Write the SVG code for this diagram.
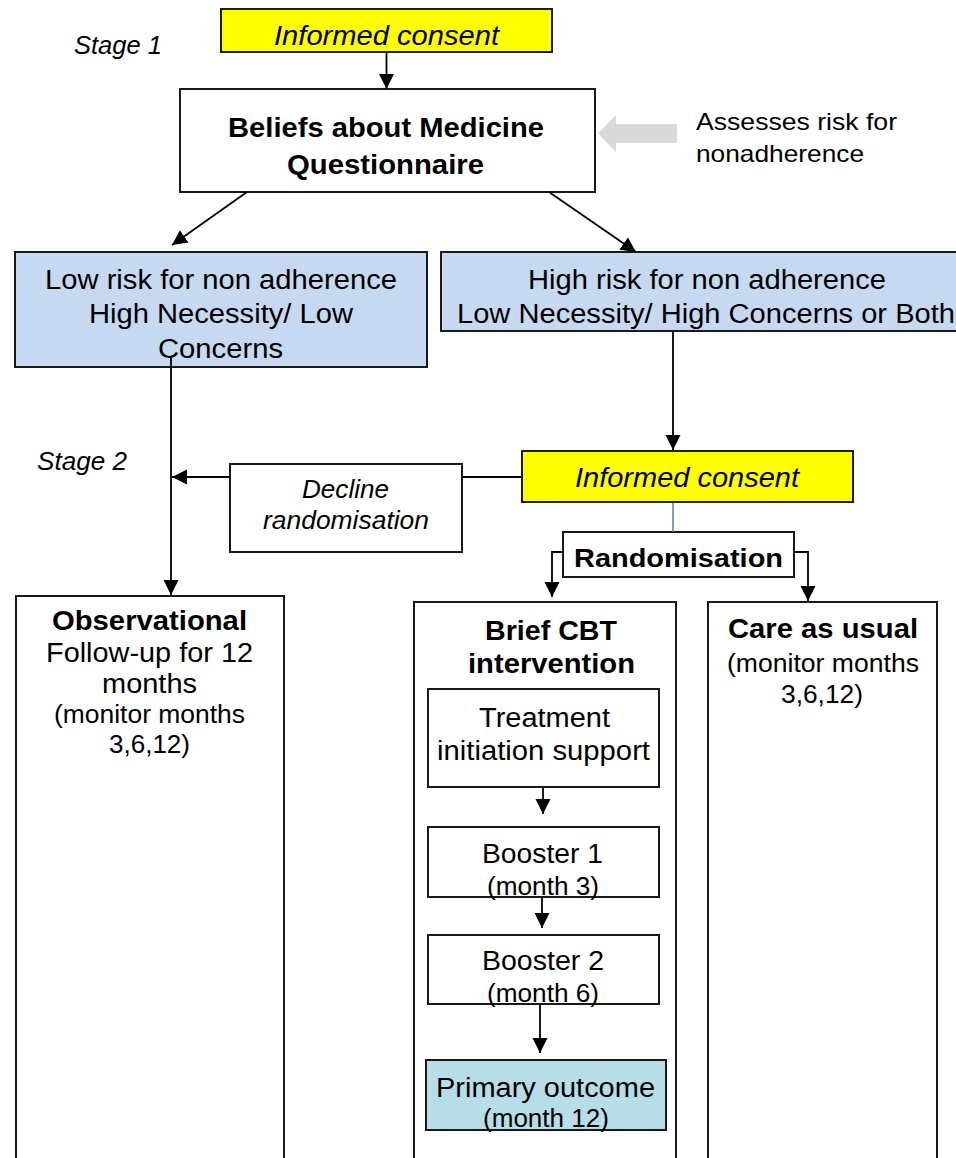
<svg xmlns="http://www.w3.org/2000/svg" width="956" height="1158" viewBox="0 0 956 1158">
  <style>
    text { font-family: "Liberation Sans", Arial, sans-serif; fill: #000; }
    .it { font-style: italic; }
    .b { font-weight: bold; }
    .s27 { font-size: 27px; }
    .s25 { font-size: 25px; }
    .s24 { font-size: 24px; }
    .box { fill: #fff; stroke: #1a1a1a; stroke-width: 2; }
    .yellow { fill: #ffff00; stroke: #1a1a1a; stroke-width: 2; }
    .blue { fill: #c6d9f1; stroke: #1a1a1a; stroke-width: 2; }
    .teal { fill: #b7dde8; stroke: #1a1a1a; stroke-width: 2; }
    .link { fill: none; stroke: #000; stroke-width: 1.8; }
    .arrow { marker-end: url(#head); }
  </style>
  <defs>
    <marker id="head" markerUnits="userSpaceOnUse" markerWidth="16" markerHeight="16" refX="15" refY="7.5" orient="auto">
      <path d="M0,0 L15,7.5 L0,15 z" fill="#000"/>
    </marker>
  </defs>

  <rect width="956" height="1158" fill="#fff"/>

  <!-- stage labels -->
  <text class="it s25" x="74" y="54" textLength="88" lengthAdjust="spacingAndGlyphs">Stage 1</text>
  <text class="it s25" x="37" y="470" textLength="90" lengthAdjust="spacingAndGlyphs">Stage 2</text>

  <g id="consent1">
    <rect class="yellow" x="221" y="9" width="331" height="43"/>
    <text class="it" font-size="28" x="274" y="45" textLength="225" lengthAdjust="spacingAndGlyphs">Informed consent</text>
  </g>

  <g id="bmq">
    <rect class="box" x="180" y="89" width="415" height="103"/>
    <text class="b s27" x="228" y="137" textLength="316" lengthAdjust="spacingAndGlyphs">Beliefs about Medicine</text>
    <text class="b s27" x="287" y="174" textLength="197" lengthAdjust="spacingAndGlyphs">Questionnaire</text>
  </g>

  <g id="assess-note">
    <polygon points="598,133.5 616,115 616,124 677,124 677,143 616,143 616,152" fill="#d9d9d9"/>
    <text class="s24" x="696" y="130" textLength="201" lengthAdjust="spacingAndGlyphs">Assesses risk for</text>
    <text class="s24" x="696" y="162" textLength="168" lengthAdjust="spacingAndGlyphs">nonadherence</text>
  </g>

  <g id="low-risk">
    <rect class="blue" x="15" y="252" width="412" height="115"/>
    <text class="s27" x="45" y="289" textLength="352" lengthAdjust="spacingAndGlyphs">Low risk for non adherence</text>
    <text class="s27" x="89" y="323" textLength="264" lengthAdjust="spacingAndGlyphs">High Necessity/ Low</text>
    <text class="s27" x="158" y="358" textLength="125" lengthAdjust="spacingAndGlyphs">Concerns</text>
  </g>

  <g id="high-risk">
    <rect class="blue" x="441" y="252" width="540" height="79"/>
    <text class="s27" x="528" y="289" textLength="358" lengthAdjust="spacingAndGlyphs">High risk for non adherence</text>
    <text class="s27" x="457" y="323" textLength="498" lengthAdjust="spacingAndGlyphs">Low Necessity/ High Concerns or Both</text>
  </g>

  <g id="consent2">
    <rect class="yellow" x="522" y="451" width="331" height="51"/>
    <text class="it" font-size="28" x="575" y="487" textLength="224" lengthAdjust="spacingAndGlyphs">Informed consent</text>
  </g>

  <g id="decline">
    <rect class="box" x="230" y="464" width="232" height="88"/>
    <text class="it s25" x="302" y="498" textLength="87" lengthAdjust="spacingAndGlyphs">Decline</text>
    <text class="it s25" x="263" y="529" textLength="166" lengthAdjust="spacingAndGlyphs">randomisation</text>
  </g>

  <g id="randomisation">
    <rect class="box" x="563" y="532" width="231" height="45"/>
    <text class="b" font-size="26" x="574" y="567" textLength="209" lengthAdjust="spacingAndGlyphs">Randomisation</text>
  </g>

  <g id="observational">
    <rect class="box" x="16" y="596" width="268" height="600"/>
    <text class="b s27" x="52" y="630" textLength="195" lengthAdjust="spacingAndGlyphs">Observational</text>
    <text class="s27" x="46" y="662" textLength="207" lengthAdjust="spacingAndGlyphs">Follow-up for 12</text>
    <text class="s27" x="102" y="693" textLength="95" lengthAdjust="spacingAndGlyphs">months</text>
    <text class="s25" x="54" y="723" textLength="191" lengthAdjust="spacingAndGlyphs">(monitor months</text>
    <text class="s25" x="109" y="753" textLength="81" lengthAdjust="spacingAndGlyphs">3,6,12)</text>
  </g>

  <g id="cbt">
    <rect class="box" x="414" y="602" width="262" height="600"/>
    <text class="b s27" x="485" y="640" textLength="132" lengthAdjust="spacingAndGlyphs">Brief CBT</text>
    <text class="b s27" x="468" y="673" textLength="167" lengthAdjust="spacingAndGlyphs">intervention</text>
  </g>

  <g id="treatment">
    <rect class="box" x="428" y="689" width="231" height="98"/>
    <text class="s27" x="479" y="727" textLength="131" lengthAdjust="spacingAndGlyphs">Treatment</text>
    <text class="s27" x="437" y="760" textLength="213" lengthAdjust="spacingAndGlyphs">initiation support</text>
  </g>

  <g id="booster1">
    <rect class="box" x="428" y="827" width="231" height="70"/>
    <text class="s27" x="482" y="863" textLength="121" lengthAdjust="spacingAndGlyphs">Booster 1</text>
    <text class="s25" x="487" y="895" textLength="112" lengthAdjust="spacingAndGlyphs">(month 3)</text>
  </g>

  <g id="booster2">
    <rect class="box" x="428" y="935" width="231" height="69"/>
    <text class="s27" x="482" y="970" textLength="122" lengthAdjust="spacingAndGlyphs">Booster 2</text>
    <text class="s25" x="487" y="1002" textLength="112" lengthAdjust="spacingAndGlyphs">(month 6)</text>
  </g>

  <g id="primary">
    <rect class="teal" x="426" y="1060" width="240" height="70"/>
    <text class="s27" x="436" y="1097" textLength="219" lengthAdjust="spacingAndGlyphs">Primary outcome</text>
    <text class="s25" x="483" y="1127" textLength="126" lengthAdjust="spacingAndGlyphs">(month 12)</text>
  </g>

  <g id="care">
    <rect class="box" x="708" y="602" width="229" height="600"/>
    <text class="b s27" x="728" y="638" textLength="190" lengthAdjust="spacingAndGlyphs">Care as usual</text>
    <text class="s25" x="727" y="672" textLength="192" lengthAdjust="spacingAndGlyphs">(monitor months</text>
    <text class="s25" x="781" y="703" textLength="82" lengthAdjust="spacingAndGlyphs">3,6,12)</text>
  </g>

  <g id="connectors">
    <line class="link arrow" x1="386.5" y1="52" x2="386.5" y2="89"/>
    <line class="link arrow" x1="247" y1="192" x2="172" y2="245"/>
    <line class="link arrow" x1="549" y1="192" x2="636" y2="252"/>
    <line class="link arrow" x1="171" y1="358" x2="171" y2="595"/>
    <line class="link arrow" x1="673" y1="331" x2="673" y2="450"/>
    <line class="link" x1="521" y1="477" x2="462" y2="477"/>
    <line class="link arrow" x1="230" y1="477" x2="172" y2="477"/>
    <line x1="673" y1="503" x2="673" y2="532" stroke="#4f81bd" stroke-width="1.5"/>
    <polyline class="link arrow" points="563,552 552,552 552,597"/>
    <polyline class="link arrow" points="794,552 808,552 808,601"/>
    <line class="link arrow" x1="543" y1="787" x2="543" y2="814"/>
    <line class="link arrow" x1="542" y1="897" x2="542" y2="928"/>
    <line class="link arrow" x1="540" y1="1004" x2="540" y2="1053"/>
  </g>
</svg>
